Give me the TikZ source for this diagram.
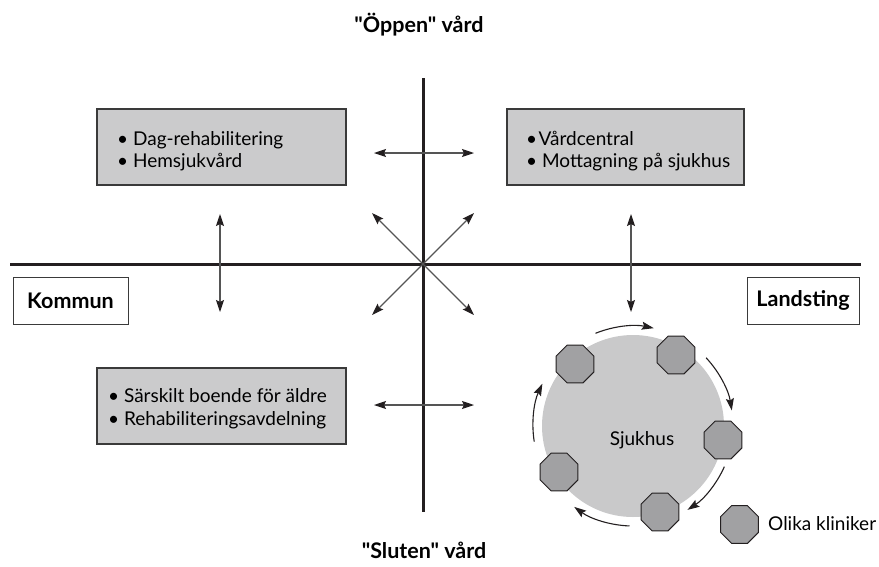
\documentclass[tikz,border=0pt]{standalone}
\usepackage{fontspec}
\setmainfont{Lato}[Ligatures=TeXOff]
\usetikzlibrary{arrows.meta,shapes.geometric}
\definecolor{boxfill}{HTML}{CBCBCC}
\definecolor{hospfill}{HTML}{C9C9CA}
\definecolor{clinfill}{HTML}{A1A1A3}
\definecolor{ink}{HTML}{231F20}
\definecolor{edge}{HTML}{3A3A3A}
\definecolor{thin}{HTML}{555555}
\begin{document}
\begin{tikzpicture}[x=1pt,y=-1pt,
  axis/.style={draw=ink,line width=3pt},
  greybox/.style={draw=edge,fill=boxfill,line width=1.3pt,inner sep=0pt},
  sidebox/.style={draw=edge,fill=white,line width=1pt,inner sep=0pt,
    minimum height=47pt,font=\fontsize{21.5}{24}\selectfont\bfseries},
  line/.style={anchor=base west,inner sep=0pt,font=\fontsize{19}{22}\selectfont},
  title/.style={anchor=base,inner sep=0pt,font=\fontsize{21.5}{24}\selectfont\bfseries},
  dbl/.style={draw=thin,line width=1.1pt,
    {Stealth[length=12pt,width=8pt,inset=2pt,color=ink]}-{Stealth[length=12pt,width=8pt,inset=2pt,color=ink]}},
  cyc/.style={draw=ink,line width=1.1pt,-{Stealth[length=12pt,width=8pt,inset=2pt]}},
  clinic/.style={regular polygon,regular polygon sides=8,minimum size=41pt,
    draw=ink,fill=clinfill,line width=1pt,inner sep=0pt}]
\useasboundingbox (0,0) rectangle (879,566);

% axes
\coordinate (W) at (10,264);
\coordinate (E) at (861,264);
\coordinate (N) at (423,78);
\coordinate (S) at (423,512);
\coordinate (O) at (423,264);
\draw[axis] (W) -- (E);
\draw[axis] (N) -- (S);

% axis labels
\node[title] (open) at (419,32) {"Öppen" vård};
\node[title] (closed) at (424,558) {"Sluten" vård};
\node[sidebox,minimum width=115pt] (kommun) at (70.5,300.5) {Kommun};
\node[sidebox,minimum width=112pt] (landsting) at (803,300.5) {Landsting};

% quadrant boxes
\node[greybox,minimum width=249pt,minimum height=76pt] (tl) at (221.5,147) {};
\node[greybox,minimum width=237pt,minimum height=76pt] (tr) at (625.5,147) {};
\node[greybox,minimum width=249pt,minimum height=76pt] (bl) at (221.5,406) {};

\node[line] (tl1) at (117,145) {• Dag-rehabilitering};
\node[line] (tl2) at (117,167) {• Hemsjukvård};
\node[line] (tr1) at (526,145) {•\hspace{1.5pt}Vårdcentral};
\node[line] (tr2) at (526,167) {• Mottagning på sjukhus};
\node[line] (bl1) at (108,402) {• Särskilt boende för äldre};
\node[line] (bl2) at (108,425) {• Rehabiliteringsavdelning};

% double-headed arrows
\coordinate (h1a) at (374,153); \coordinate (h1b) at (474,153);
\coordinate (h2a) at (374,405); \coordinate (h2b) at (474,405);
\coordinate (v1a) at (220,214); \coordinate (v1b) at (220,312);
\coordinate (v2a) at (631,214); \coordinate (v2b) at (631,312);
\coordinate (d1a) at (372,213); \coordinate (d1b) at (474,315);
\coordinate (d2a) at (474,213); \coordinate (d2b) at (372,315);
\draw[dbl] (h1a) -- (h1b);
\draw[dbl] (h2a) -- (h2b);
\draw[dbl] (v1a) -- (v1b);
\draw[dbl] (v2a) -- (v2b);
\draw[dbl] (d1a) -- (d1b);
\draw[dbl] (d2a) -- (d2b);

% hospital with its clinics
\node[circle,fill=hospfill,minimum size=182pt,inner sep=0pt] (hosp) at (633,426) {};
\node[inner sep=0pt,font=\fontsize{19}{22}\selectfont] (hosptext) at (642,440) {Sjukhus};
\foreach \a/\b in {-112/-78,-43/-9,24/57,92/126,171/205}
  \draw[cyc] ([shift={(\a:100)}]hosp.center) arc[start angle=\a,end angle=\b,radius=100];
\node[clinic] (k1) at (575,364) {};
\node[clinic] (k2) at (676,355) {};
\node[clinic] (k3) at (723,440) {};
\node[clinic] (k4) at (559,472) {};
\node[clinic] (k5) at (660,512) {};

% legend
\node[clinic] (key) at (739.5,524.5) {};
\node[line] (keytext) at (768,530) {Olika kliniker};
\end{tikzpicture}
\end{document}
